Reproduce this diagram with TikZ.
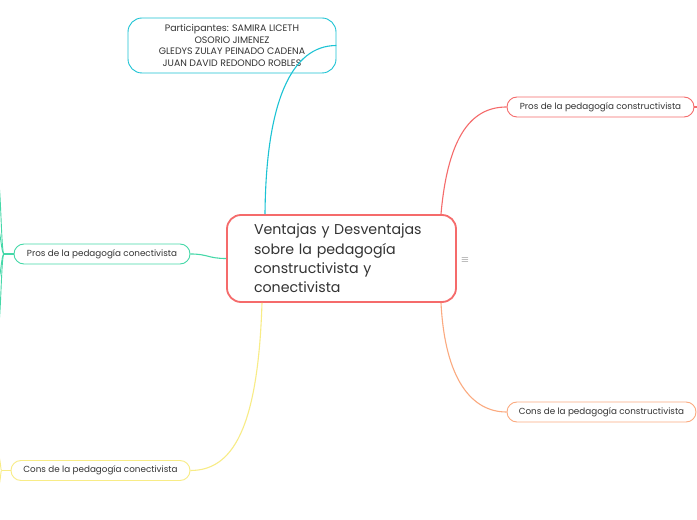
\documentclass[tikz,border=0pt]{standalone}
\usepackage{fontspec}
\setmainfont{Poppins}
\definecolor{txtgray}{HTML}{333333}
\definecolor{redline}{HTML}{F56B6B}
\definecolor{cyanline}{HTML}{1CC3D4}
\definecolor{greenline}{HTML}{45D8A8}
\definecolor{yellowline}{HTML}{F8EC86}
\definecolor{orangeline}{HTML}{FBAA80}
\tikzset{
  topic/.style={draw, fill=white, text=txtgray, line width=0.9pt, rounded corners=10pt,
    inner sep=0pt, minimum height=20pt, font=\fontsize{8.8}{10}\selectfont},
  conn/.style={line width=1.1pt},
}
\begin{document}
\begin{tikzpicture}[x=1pt,y=1pt]
\useasboundingbox[fill=white] (0,0) rectangle (697,520);

\node[draw=redline, fill=white, text=txtgray, line width=1.8pt, rounded corners=14pt,
  inner xsep=27pt, inner ysep=0pt, text width=175pt, minimum height=87pt, align=left,
  font=\fontsize{14.2}{19.3}\selectfont] (central) at (341.5,261.5)
  {Ventajas y Desventajas\\sobre la pedagogía\\constructivista y\\conectivista};

\node[topic, draw=cyanline, rounded corners=14pt, minimum width=208pt, minimum height=55pt,
  align=center, font=\fontsize{9.4}{11.5}\selectfont] (part) at (232,474.5)
  {Participantes: SAMIRA LICETH\\OSORIO JIMENEZ\\GLEDYS ZULAY PEINADO CADENA\\JUAN DAVID REDONDO ROBLES};
\node[topic, draw=redline, minimum width=187pt] (pcons) at (600.5,413) {Pros de la pedagogía constructivista};
\node[topic, draw=orangeline, minimum width=189pt] (ccons) at (601.5,108) {Cons de la pedagogía constructivista};
\node[topic, draw=greenline, minimum width=176pt] (pcon) at (102,266) {Pros de la pedagogía conectivista};
\node[topic, draw=yellowline, minimum width=179pt] (ccon) at (100.5,49.5) {Cons de la pedagogía conectivista};
\node[text=txtgray!80, font=\fontsize{10}{10}\selectfont] (menu) at (465,260) {$\equiv$};

\draw[conn, cyanline] ([xshift=-76.5pt]central.north) .. controls (266,420) and (292,474.5) .. (part.east);
\draw[conn, redline] ([xshift=99.5pt]central.north) .. controls (448,385) and (472,413) .. (pcons.west);
\draw[conn, orangeline] ([xshift=99.5pt]central.south) .. controls (445,140) and (472,108) .. (ccons.west);
\draw[conn, greenline] (central.west) .. controls (208,261.5) and (208,266) .. (pcon.east);
\draw[conn, yellowline] ([xshift=-79.5pt]central.south) .. controls (258,90) and (232,49.5) .. (ccon.east);

% ramas que salen del borde
\coordinate (pconsout) at (710,413);
\draw[conn, redline] (pcons.east) -- (pconsout);
\coordinate (pconhub) at (4,266);
\draw[conn, greenline] (pcon.west) -- (pconhub);
\foreach \y in {345,292,238,188}
  \draw[line width=0.9pt, greenline] (pconhub) .. controls (1,266) and (1,\y) .. (-3,\y);
\coordinate (cconhub) at (1.5,49.5);
\draw[conn, yellowline] (ccon.west) -- (cconhub);
\foreach \y in {66,32}
  \draw[line width=0.9pt, yellowline] (cconhub) .. controls (0.5,49.5) and (0.5,\y) .. (-3,\y);
\end{tikzpicture}
\end{document}
